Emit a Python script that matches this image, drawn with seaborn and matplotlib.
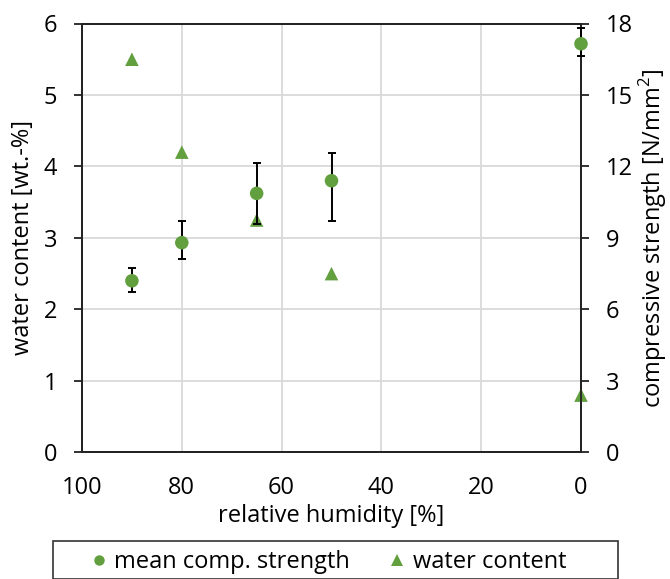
import matplotlib
matplotlib.use("Agg")
import matplotlib.pyplot as plt
import seaborn as sns
import pandas as pd
from matplotlib.lines import Line2D
from matplotlib.patches import Rectangle

# Data
rh = [90, 80, 65, 50, 0]
water_content = [5.5, 4.2, 3.25, 2.5, 0.8]
strength = [7.2, 8.8, 10.87, 11.4, 17.15]
strength_err_low = [0.46, 0.7, 1.27, 1.67, 0.52]
strength_err_high = [0.54, 0.9, 1.27, 1.16, 0.67]
x_ticks = [100, 80, 60, 40, 20, 0]
left_ticks = [0, 1, 2, 3, 4, 5, 6]
right_ticks = [0, 3, 6, 9, 12, 15, 18]

sns.set_theme(style="white")
plt.rcParams['font.family'] = ['Open Sans', 'DejaVu Sans']
plt.rcParams['mathtext.fontset'] = 'custom'
plt.rcParams['mathtext.rm'] = 'Open Sans'
FS = 17
green = '#62A03F'

W, H = 670, 579
df = pd.DataFrame({"rh": rh, "wc": water_content, "st": strength})

fig = plt.figure(figsize=(W/100, H/100), dpi=100)
L, R, T, B = 82, 581, 23.5, 452.3
ax = fig.add_axes([L/W, 1-B/H, (R-L)/W, (B-T)/H])
ax2 = ax.twinx()

ax.set_zorder(1)
ax2.set_zorder(2)
ax.patch.set_visible(False)

ax.set_xlim(100, 0)
ax.set_ylim(0, 6)
ax2.set_ylim(0, 18)
ax.set_xticks(x_ticks)
ax.set_yticks(left_ticks)
ax2.set_yticks(right_ticks)
ax.grid(True, color='#d9d9d9', lw=1.3)
ax.set_axisbelow(True)

sns.scatterplot(data=df, x="rh", y="wc", marker='^', s=95, color=green,
                edgecolor='none', ax=ax, zorder=3, legend=False, clip_on=False)

ax2.errorbar(rh, strength, yerr=[strength_err_low, strength_err_high], fmt='none',
             ecolor='black', elinewidth=1.4, capsize=3.0, capthick=1.4, zorder=3,
             clip_on=False)
sns.scatterplot(data=df, x="rh", y="st", marker='o', s=95, color=green,
                edgecolor='none', ax=ax2, zorder=4, legend=False, clip_on=False)

ax.set_xlim(100, 0)

for a in (ax, ax2):
    for sp in a.spines.values():
        sp.set_color('#222222')
        sp.set_linewidth(1.3)
    a.tick_params(axis='both', which='both', direction='out', length=6, width=1.3,
                  color='#222222', labelsize=FS, labelcolor='black')
ax.tick_params(axis='x', pad=11)
ax.tick_params(axis='y', pad=12)
ax2.tick_params(axis='y', pad=12)

ax.set_xlabel("relative humidity [%]", fontsize=FS, color='black', labelpad=3)
ax.set_ylabel("water content [wt.-%]", fontsize=FS, color='black', labelpad=6)
ax2.set_ylabel("compressive strength [N/mm$^\\mathregular{2}$]", fontsize=FS,
               color='black', labelpad=3)
ax2.set_xlabel("")

# legend box
fig.patches.append(Rectangle((53/W, 0), (618-53)/W, 1-541/H, transform=fig.transFigure,
                             facecolor='white', edgecolor='#333333', lw=1.2,
                             figure=fig, zorder=0))
handles = [Line2D([], [], marker='o', ls='none', color=green, markersize=7.5, markeredgewidth=0),
           Line2D([], [], marker='^', ls='none', color=green, markersize=8, markeredgewidth=0)]
leg = fig.legend(handles, ["mean comp. strength", "water content"], loc='center left',
                 bbox_to_anchor=(92/W, 1-562/H), ncol=2, fontsize=FS, frameon=False,
                 handletextpad=0.35, columnspacing=1.7, handlelength=0.6,
                 borderpad=0, borderaxespad=0)
for t in leg.get_texts():
    t.set_color('black')

fig.savefig("out.png", dpi=100)
